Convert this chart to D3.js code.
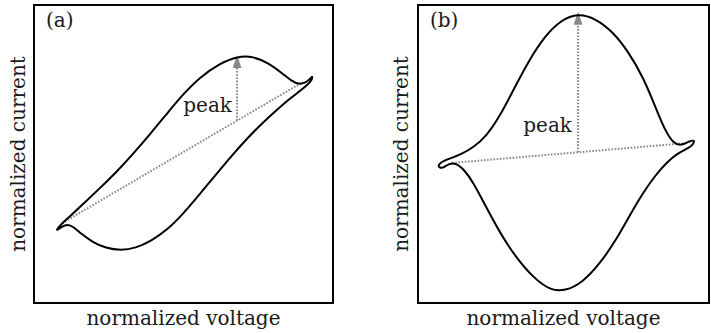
<!DOCTYPE html>
<html>
<head>
<meta charset="utf-8">
<script src="https://cdn.jsdelivr.net/npm/d3@7"></script>
<style>
  html, body { margin: 0; padding: 0; background: #fff; }
</style>
</head>
<body>
<div id="chart"></div>
<script>
// loop (a): upper branch from left tip to right tip, then lower branch back
var loopA = [
  [0.72, 2.40], [0.84, 2.57], [1.02, 2.75], [1.25, 2.95], [1.64, 3.32], [2.21, 3.86],
  [2.78, 4.42], [3.31, 5.00], [3.88, 5.66], [4.45, 6.36], [4.98, 7.00], [5.55, 7.58],
  [6.22, 8.05], [6.82, 8.28], [7.32, 8.28], [7.85, 8.05], [8.29, 7.72], [8.62, 7.44],
  [8.86, 7.34], [9.06, 7.38], [9.22, 7.50], [9.32, 7.64], [9.30, 7.48],
  [9.12, 7.30], [8.90, 7.12], [8.56, 6.86], [8.20, 6.55], [7.70, 6.10], [7.15, 5.55],
  [6.60, 4.93], [6.05, 4.27], [5.50, 3.60], [4.95, 2.95], [4.45, 2.45], [3.92, 2.08],
  [3.40, 1.84], [2.90, 1.76], [2.40, 1.84], [1.96, 2.04], [1.58, 2.32], [1.32, 2.56],
  [1.12, 2.65], [0.92, 2.56]
];
var loopB = [
  [0.66, 4.58], [0.80, 4.74], [1.10, 4.85], [1.48, 4.99], [1.90, 5.22], [2.35, 5.60],
  [2.80, 6.25], [3.28, 7.15], [3.80, 8.12], [4.35, 8.95], [4.92, 9.50], [5.50, 9.72],
  [6.10, 9.55], [6.70, 9.10], [7.25, 8.40], [7.75, 7.55], [8.15, 6.60], [8.48, 5.80],
  [8.78, 5.35], [9.05, 5.28], [9.30, 5.42], [9.52, 5.48], [9.45, 5.30],
  [9.22, 5.16], [8.92, 5.02], [8.55, 4.72], [8.15, 4.28], [7.72, 3.68], [7.28, 2.95],
  [6.80, 2.10], [6.25, 1.32], [5.65, 0.68], [5.05, 0.40], [4.55, 0.42], [3.95, 0.86],
  [3.35, 1.55], [2.80, 2.38], [2.30, 3.30], [1.90, 4.05], [1.58, 4.48], [1.30, 4.70],
  [1.05, 4.68], [0.84, 4.50]
];
// dotted chord between the two tips
var chordA = [[0.94, 2.68], [9.00, 7.42]];
var chordB = [[1.17, 4.70], [9.28, 5.37]];
// peak arrow: x, top y
var peakA = [6.79, 8.32];
var peakB = [5.50, 9.77];
// "peak" label anchor (right end, baseline)
var labelA = [6.62, 6.41];
var labelB = [5.29, 5.74];
var panelTags = ["(a)", "(b)"];
var xTitle = "normalized voltage";
var yTitle = "normalized current";

var FONT = "DejaVu Serif";
var FS = 20;
var GREY = "#888";
var W = 711, H = 333;
var svg = d3.select("#chart").append("svg").attr("width", W).attr("height", H);

svg.append("defs").append("marker")
  .attr("id", "head").attr("viewBox", "0 0 10 10")
  .attr("refX", 10).attr("refY", 5)
  .attr("markerWidth", 13).attr("markerHeight", 9)
  .attr("markerUnits", "userSpaceOnUse")
  .attr("orient", "auto")
  .attr("preserveAspectRatio", "none")
  .append("path").attr("d", "M0,0 L10,5 L0,10 Z").attr("fill", GREY);

var panels = [
  { left: 34, right: 333, loop: loopA, chord: chordA, peak: peakA, label: labelA, tag: panelTags[0], tagX: 46, yLab: 25 },
  { left: 418, right: 709, loop: loopB, chord: chordB, peak: peakB, label: labelB, tag: panelTags[1], tagX: 430, yLab: 408 }
];
var frameTop = 5, frameBottom = 303;

panels.forEach(function(p) {
  var x = d3.scaleLinear().domain([0, 10]).range([p.left, p.right]);
  var y = d3.scaleLinear().domain([0, 10]).range([frameBottom, frameTop]);
  var g = svg.append("g");

  // chord (dotted)
  g.append("line")
    .attr("x1", x(p.chord[0][0])).attr("y1", y(p.chord[0][1]))
    .attr("x2", x(p.chord[1][0])).attr("y2", y(p.chord[1][1]))
    .attr("stroke", GREY).attr("stroke-width", 2).attr("stroke-dasharray", "1.6,1.6");

  // peak arrow from chord up to peak
  var c0 = p.chord[0], c1 = p.chord[1];
  var baseY = c0[1] + (p.peak[0] - c0[0]) / (c1[0] - c0[0]) * (c1[1] - c0[1]);
  g.append("line")
    .attr("x1", x(p.peak[0])).attr("y1", y(baseY))
    .attr("x2", x(p.peak[0])).attr("y2", y(p.peak[1]) + 11)
    .attr("stroke", GREY).attr("stroke-width", 2).attr("stroke-dasharray", "1.6,1.6");
  g.append("line")
    .attr("x1", x(p.peak[0])).attr("y1", y(p.peak[1]) + 16)
    .attr("x2", x(p.peak[0])).attr("y2", y(p.peak[1]))
    .attr("stroke", GREY).attr("stroke-width", 0.1)
    .attr("marker-end", "url(#head)");

  // the loop
  g.append("path")
    .datum(p.loop)
    .attr("d", d3.line().x(function(d) { return x(d[0]); }).y(function(d) { return y(d[1]); })
      .curve(d3.curveBasisClosed))
    .attr("fill", "none").attr("stroke", "#000").attr("stroke-width", 2)
    .attr("stroke-linejoin", "round");

  g.append("text")
    .attr("x", x(p.label[0])).attr("y", y(p.label[1]))
    .attr("text-anchor", "end").attr("font-size", FS).attr("font-family", FONT).attr("fill", "#1a1a1a")
    .text("peak");

  // frame
  g.append("rect")
    .attr("x", p.left).attr("y", frameTop)
    .attr("width", p.right - p.left).attr("height", frameBottom - frameTop)
    .attr("fill", "none").attr("stroke", "#000").attr("stroke-width", 2);

  g.append("text").attr("x", p.tagX).attr("y", 27)
    .attr("font-size", FS).attr("font-family", FONT).attr("fill", "#1a1a1a")
    .text(p.tag);

  g.append("text")
    .attr("x", (p.left + p.right) / 2).attr("y", 325)
    .attr("text-anchor", "middle").attr("font-size", FS).attr("font-family", FONT).attr("fill", "#1a1a1a")
    .text(xTitle);

  g.append("text")
    .attr("transform", "translate(" + p.yLab + "," + (frameTop + frameBottom) / 2 + ") rotate(-90)")
    .attr("text-anchor", "middle").attr("font-size", FS).attr("font-family", FONT).attr("fill", "#1a1a1a")
    .text(yTitle);
});
</script>
</body>
</html>
